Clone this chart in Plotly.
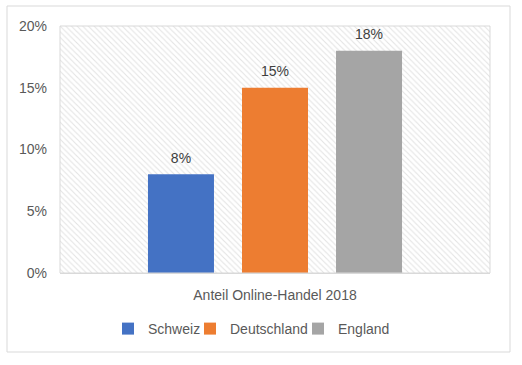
import plotly.graph_objects as go

category = ["Anteil Online-Handel 2018"]
countries = ["Schweiz", "Deutschland", "England"]
shares = [0.08, 0.15, 0.18]
colors = ["#4472C4", "#ED7D31", "#A5A5A5"]
y_ticks = [0, 0.05, 0.10, 0.15, 0.20]
y_tick_labels = ["0%", "5%", "10%", "15%", "20%"]

FONT = "Liberation Sans"
FS = 14
L, R, T, B = 60, 32, 26, 92
PW = 522 - L - R
PH = 365 - T - B
fig = go.Figure()

# hatched plot-area background on base axes (drawn beneath the overlaid bar subplot)
fig.add_trace(go.Scatter(
    x=[0, 1, 1, 0, 0], y=[0, 0, 1, 1, 0], xaxis="x", yaxis="y",
    mode="lines", line=dict(width=0), fill="toself",
    fillcolor="rgba(0,0,0,0)",
    fillpattern=dict(shape="\\", fgcolor="#c8c8c8", bgcolor="white", size=4, solidity=0.28),
    showlegend=False, hoverinfo="skip"))

legend_ids = ["legend", "legend2", "legend3"]
legend_left_px = [108, 190, 298]

for i, (name, val, col, lg) in enumerate(zip(countries, shares, colors, legend_ids)):
    fig.add_trace(go.Bar(
        x=category, y=[val], name=name,
        marker=dict(color=col, line=dict(width=0)),
        offsetgroup=str(i), alignmentgroup="g",
        xaxis="x2", yaxis="y2", legend=lg))

# value labels, grouped like the bars (invisible marker gives the offset above the bar)
for i, (name, val) in enumerate(zip(countries, shares)):
    fig.add_trace(go.Scatter(
        x=category, y=[val], mode="markers+text", text=[f"{round(val*100)}%"],
        textposition="top center",
        marker=dict(size=11, color="rgba(0,0,0,0)", line=dict(width=0)),
        textfont=dict(family=FONT, size=FS, color="#404040"),
        offsetgroup=str(i), alignmentgroup="g", cliponaxis=False,
        xaxis="x2", yaxis="y2", showlegend=False, hoverinfo="skip"))

legend_style = dict(orientation="h", xanchor="left", y=(273 - 329) / PH, yanchor="middle",
                    font=dict(family=FONT, size=FS, color="#595959"),
                    itemwidth=30, bgcolor="rgba(0,0,0,0)")
legends = {lg: dict(legend_style, x=(px - L) / PW) for lg, px in zip(legend_ids, legend_left_px)}

fig.update_layout(
    width=522, height=365,
    margin=dict(l=L, r=R, t=T, b=B),
    paper_bgcolor="white", plot_bgcolor="white",
    font=dict(family=FONT, size=FS, color="#595959"),
    barmode="group", bargap=0.344, bargroupgap=0.298,
    scattermode="group", scattergap=0.344,
    xaxis=dict(range=[0, 1], visible=False, fixedrange=True),
    yaxis=dict(range=[0, 1], visible=False, fixedrange=True),
    xaxis2=dict(overlaying="x", side="bottom", showgrid=False, zeroline=False,
                showline=False, ticks="", ticklabelstandoff=12,
                tickfont=dict(family=FONT, size=FS, color="#595959")),
    yaxis2=dict(overlaying="y", side="left", range=[0, 0.20], tickvals=y_ticks,
                ticktext=y_tick_labels, showgrid=True, gridcolor="#d9d9d9", gridwidth=1,
                zeroline=True, zerolinecolor="#d9d9d9", zerolinewidth=1,
                showline=False, ticks="", ticklabelstandoff=12,
                tickfont=dict(family=FONT, size=FS, color="#595959")),
    showlegend=True,
    **legends,
)

# plot-area border
fig.add_shape(type="rect", xref="paper", yref="paper", x0=0, y0=0, x1=1, y1=1,
              line=dict(color="#d9d9d9", width=1), layer="above")
# chart outer border
fig.add_shape(type="rect", xref="paper", yref="paper",
              x0=(7 - L) / PW, x1=(510 - L) / PW,
              y0=(273 - 352) / PH, y1=(273 - 6) / PH,
              line=dict(color="#d9d9d9", width=1), layer="above")

fig.write_html("out.html", config={"displayModeBar": False},
               post_script="document.body.style.margin='0';document.body.style.padding='0';")
